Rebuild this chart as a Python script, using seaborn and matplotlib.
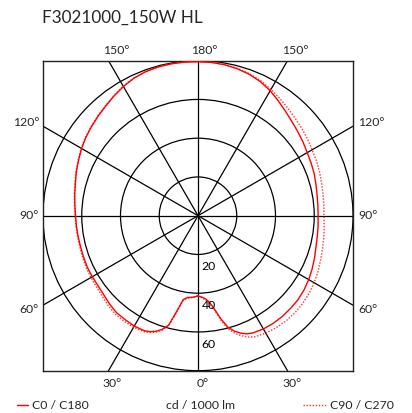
import numpy as np
import pandas as pd
import seaborn as sns
import matplotlib
matplotlib.use("Agg")
import matplotlib.pyplot as plt
from matplotlib.lines import Line2D
from matplotlib.patches import Circle

# ---- data (cd / 1000 lm) ----
gamma = [0, 2.5, 5, 7.5, 10, 12.5, 15, 17.5, 20, 22.5, 25, 30, 35, 40, 45, 50, 55, 60, 65, 70,
         75, 80, 85, 90, 95, 100, 105, 110, 115, 120, 125, 130, 135, 140, 145, 150, 155,
         160, 165, 170, 175, 180]
c0 = [41.5, 42.0, 43.0, 45.0, 49.0, 54.5, 59.5, 62.5, 64.5, 66.0, 66.8, 67.5, 67.8, 67.8, 67.6, 67.4,
      66.8, 66.0, 65.0, 64.0, 63.0, 62.5, 62.2, 62.0, 62.1, 62.4, 63.0, 63.8, 64.4, 65.1,
      66.2, 67.3, 68.6, 70.3, 72.3, 74.5, 76.3, 77.6, 78.5, 79.1, 79.4, 79.5]
c180 = [41.3, 42.0, 42.3, 42.6, 44.0, 50.5, 58.5, 61.5, 63.5, 64.8, 65.5, 65.8, 65.5, 65.4, 64.5, 63.5,
        63.0, 63.0, 63.0, 62.8, 62.7, 62.8, 63.0, 63.2, 63.8, 64.6, 65.5, 66.8, 68.0, 69.4,
        70.6, 71.7, 72.8, 74.0, 75.5, 77.0, 78.3, 79.1, 79.5, 79.6, 79.6, 79.5]
c90 = [41.5, 42.3, 43.5, 46.0, 49.5, 55.5, 60.5, 63.8, 66.0, 67.8, 69.0, 70.0, 70.5, 70.8, 70.8, 70.5,
       70.0, 69.2, 68.3, 67.3, 66.5, 65.9, 65.4, 65.0, 65.2, 65.5, 66.0, 66.7, 67.4, 68.0,
       69.0, 70.0, 71.0, 72.3, 73.8, 75.3, 76.8, 78.0, 78.8, 79.3, 79.5, 79.5]
c270 = [41.3, 42.0, 42.5, 43.0, 44.5, 51.0, 59.0, 62.0, 64.0, 65.3, 66.0, 66.5, 66.5, 66.4, 65.6, 64.6,
        64.0, 63.8, 63.6, 63.3, 63.1, 63.1, 63.2, 63.4, 64.0, 64.8, 65.7, 67.0, 68.2, 69.6,
        70.8, 71.9, 73.0, 74.2, 75.7, 77.2, 78.4, 79.1, 79.5, 79.6, 79.6, 79.5]

ring_values = [20, 40, 60, 80]
ring_labels = ["20", "40", "60"]
angle_labels = ["0°", "30°", "60°", "90°", "120°", "150°", "180°"]
title = "F3021000_150W HL"
unit_label = "cd / 1000 lm"
legend_labels = ["C0 / C180", "C90 / C270"]

# ---- figure ----
W, H = 412, 414
sns.set_theme(style="white")
plt.rcParams['font.family'] = ['Lato', 'DejaVu Sans']
fig = plt.figure(figsize=(W / 100, H / 100), dpi=100)

L, T, R, B = 43, 61.7, 353, 371.7
ax = fig.add_axes([L / W, 1 - B / H, (R - L) / W, (B - T) / H])
ax.set_xlim(-80, 80)
ax.set_ylim(-80, 80)
ax.set_xticks([])
ax.set_yticks([])
for s in ax.spines.values():
    s.set_color("#222222")
    s.set_linewidth(1.0)

def px(x, y):
    return x / W, 1 - y / H

# grid circles
for rv in ring_values:
    ax.add_patch(Circle((0, 0), rv, fill=False, ec="black", lw=0.9, zorder=1))
# spokes
for a in range(0, 360, 30):
    t = np.deg2rad(a)
    ax.plot([0, 200 * np.sin(t)], [0, -200 * np.cos(t)], color="black", lw=0.9, zorder=1)

def curve(left, right):
    g = np.deg2rad(np.array(gamma))
    xl = -np.array(left) * np.sin(g)
    yl = -np.array(left) * np.cos(g)
    xr = np.array(right) * np.sin(g)
    yr = -np.array(right) * np.cos(g)
    x = np.concatenate([xl, xr[::-1]])
    y = np.concatenate([yl, yr[::-1]])
    return pd.DataFrame({"x": x, "y": y, "i": np.arange(len(x))})

d_solid = curve(c180, c0)
d_dot = curve(c270, c90)
sns.lineplot(data=d_dot, x="x", y="y", sort=False, estimator=None, ax=ax,
             color="#ff3030", lw=1.0, linestyle=(0, (1, 1.2)), zorder=3)
sns.lineplot(data=d_solid, x="x", y="y", sort=False, estimator=None, ax=ax,
             color="#ff0000", lw=1.0, zorder=4)
ax.set_xlabel("")
ax.set_ylabel("")

# ring labels
for rv, lab in zip(ring_values[:3], ring_labels):
    ax.text(1.8, -rv - 5.8, lab, ha="left", va="center", fontsize=8.8, color="black", zorder=5)

fs = 8.8
# top labels
fig.text(*px(116, 50), angle_labels[5], ha="center", va="center", fontsize=fs)
fig.text(*px(204, 50), angle_labels[6], ha="center", va="center", fontsize=fs)
fig.text(*px(295, 50), angle_labels[5], ha="center", va="center", fontsize=fs)
# bottom labels
fig.text(*px(112, 384), angle_labels[1], ha="center", va="center", fontsize=fs)
fig.text(*px(203, 384), angle_labels[0], ha="center", va="center", fontsize=fs)
fig.text(*px(292, 384), angle_labels[1], ha="center", va="center", fontsize=fs)
# left labels
fig.text(*px(39, 123), angle_labels[4], ha="right", va="center", fontsize=fs)
fig.text(*px(39, 216), angle_labels[3], ha="right", va="center", fontsize=fs)
fig.text(*px(39, 310), angle_labels[2], ha="right", va="center", fontsize=fs)
# right labels
fig.text(*px(358, 123), angle_labels[4], ha="left", va="center", fontsize=fs)
fig.text(*px(358, 216), angle_labels[3], ha="left", va="center", fontsize=fs)
fig.text(*px(358, 310), angle_labels[2], ha="left", va="center", fontsize=fs)

# title
fig.text(*px(42, 18), title, ha="left", va="center", fontsize=12.3)
# unit
fig.text(*px(200, 406), unit_label, ha="center", va="center", fontsize=fs)
# legend
fig.add_artist(Line2D([17 / W, 28 / W], [1 - 406 / H] * 2, color="#ff0000", lw=1.0))
fig.text(*px(32, 406), legend_labels[0], ha="left", va="center", fontsize=fs)
fig.add_artist(Line2D([303 / W, 327 / W], [1 - 406 / H] * 2, color="#ff3030", lw=1.0,
                      linestyle=(0, (1, 1.2))))
fig.text(*px(330, 406), legend_labels[1], ha="left", va="center", fontsize=fs)

fig.savefig("out.png", dpi=100)
